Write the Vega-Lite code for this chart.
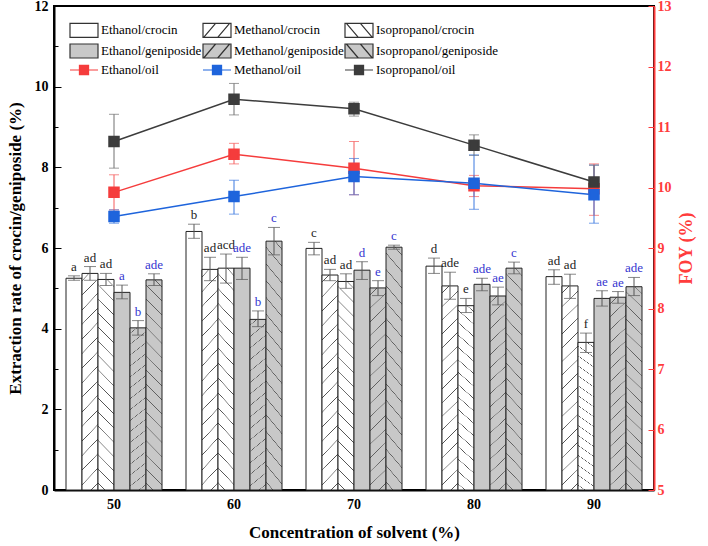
{
 "$schema": "https://vega.github.io/schema/vega-lite/v6.json",
 "width": 600, "height": 484,
 "autosize": {"type": "none"},
 "padding": {"left": 54, "top": 6, "right": 54, "bottom": 56},
 "config": {
  "font": "Liberation Serif",
  "view": {"stroke": "#000", "strokeWidth": 2},
  "axis": {"grid": false, "labelFont": "Liberation Serif", "titleFont": "Liberation Serif", "labelFontSize": 14, "labelFontWeight": "bold", "titleFontSize": 17, "titleFontWeight": "bold", "labelColor": "#000", "titleColor": "#000", "domainWidth": 2, "domainColor": "#000", "tickColor": "#000"},
  "legend": {"orient": "none", "direction": "horizontal", "gridAlign": "each", "legendX": 22, "legendY": 16, "columns": 3, "labelFont": "Liberation Serif", "labelFontSize": 13, "labelColor": "#000", "symbolSize": 196, "labelOffset": 9, "columnPadding": -2, "rowPadding": 1, "symbolStrokeWidth": 1.2, "padding": 0, "labelLimit": 300}
 },
 "datasets": {
  "bars": [
   {"conc":"50","series":"Ethanol/crocin","v":5.25,"lo":5.2,"hi":5.31,"label":"a"},
   {"conc":"50","series":"Methanol/crocin","v":5.37,"lo":5.2,"hi":5.54,"label":"ad"},
   {"conc":"50","series":"Isopropanol/crocin","v":5.22,"lo":5.07,"hi":5.37,"label":"ad"},
   {"conc":"50","series":"Ethanol/geniposide","v":4.9,"lo":4.74,"hi":5.08,"label":"a"},
   {"conc":"50","series":"Methanol/geniposide","v":4.02,"lo":3.84,"hi":4.2,"label":"b"},
   {"conc":"50","series":"Isopropanol/geniposide","v":5.21,"lo":5.07,"hi":5.36,"label":"ade"},
   {"conc":"60","series":"Ethanol/crocin","v":6.41,"lo":6.24,"hi":6.59,"label":"b"},
   {"conc":"60","series":"Methanol/crocin","v":5.47,"lo":5.19,"hi":5.77,"label":"ad"},
   {"conc":"60","series":"Isopropanol/crocin","v":5.5,"lo":5.13,"hi":5.85,"label":"acd"},
   {"conc":"60","series":"Ethanol/geniposide","v":5.5,"lo":5.22,"hi":5.77,"label":"ade"},
   {"conc":"60","series":"Methanol/geniposide","v":4.23,"lo":4.05,"hi":4.44,"label":"b"},
   {"conc":"60","series":"Isopropanol/geniposide","v":6.17,"lo":5.83,"hi":6.51,"label":"c"},
   {"conc":"70","series":"Ethanol/crocin","v":5.99,"lo":5.83,"hi":6.14,"label":"c"},
   {"conc":"70","series":"Methanol/crocin","v":5.33,"lo":5.19,"hi":5.47,"label":"ad"},
   {"conc":"70","series":"Isopropanol/crocin","v":5.17,"lo":5.0,"hi":5.36,"label":"ad"},
   {"conc":"70","series":"Ethanol/geniposide","v":5.45,"lo":5.22,"hi":5.66,"label":"d"},
   {"conc":"70","series":"Methanol/geniposide","v":5.01,"lo":4.82,"hi":5.19,"label":"e"},
   {"conc":"70","series":"Isopropanol/geniposide","v":6.02,"lo":5.97,"hi":6.07,"label":"c"},
   {"conc":"80","series":"Ethanol/crocin","v":5.55,"lo":5.37,"hi":5.75,"label":"d"},
   {"conc":"80","series":"Methanol/crocin","v":5.06,"lo":4.73,"hi":5.4,"label":"ade"},
   {"conc":"80","series":"Isopropanol/crocin","v":4.57,"lo":4.4,"hi":4.75,"label":"e"},
   {"conc":"80","series":"Ethanol/geniposide","v":5.1,"lo":4.94,"hi":5.25,"label":"ade"},
   {"conc":"80","series":"Methanol/geniposide","v":4.81,"lo":4.59,"hi":5.03,"label":"ae"},
   {"conc":"80","series":"Isopropanol/geniposide","v":5.5,"lo":5.36,"hi":5.65,"label":"c"},
   {"conc":"90","series":"Ethanol/crocin","v":5.29,"lo":5.1,"hi":5.46,"label":"ad"},
   {"conc":"90","series":"Methanol/crocin","v":5.06,"lo":4.75,"hi":5.35,"label":"ad"},
   {"conc":"90","series":"Isopropanol/crocin","v":3.66,"lo":3.41,"hi":3.89,"label":"f"},
   {"conc":"90","series":"Ethanol/geniposide","v":4.75,"lo":4.56,"hi":4.94,"label":"ae"},
   {"conc":"90","series":"Methanol/geniposide","v":4.78,"lo":4.63,"hi":4.92,"label":"ae"},
   {"conc":"90","series":"Isopropanol/geniposide","v":5.04,"lo":4.82,"hi":5.27,"label":"ade"}
  ],
  "oil": [
   {"conc":"50","series":"Ethanol/oil","v":9.92,"lo":9.63,"hi":10.21},
   {"conc":"60","series":"Ethanol/oil","v":10.55,"lo":10.39,"hi":10.73},
   {"conc":"70","series":"Ethanol/oil","v":10.32,"lo":9.88,"hi":10.76},
   {"conc":"80","series":"Ethanol/oil","v":10.03,"lo":9.85,"hi":10.2},
   {"conc":"90","series":"Ethanol/oil","v":9.98,"lo":9.54,"hi":10.39},
   {"conc":"50","series":"Methanol/oil","v":9.52,"lo":9.41,"hi":9.63},
   {"conc":"60","series":"Methanol/oil","v":9.85,"lo":9.56,"hi":10.12},
   {"conc":"70","series":"Methanol/oil","v":10.18,"lo":9.88,"hi":10.48},
   {"conc":"80","series":"Methanol/oil","v":10.07,"lo":9.64,"hi":10.54},
   {"conc":"90","series":"Methanol/oil","v":9.88,"lo":9.41,"hi":10.37},
   {"conc":"50","series":"Isopropanol/oil","v":10.76,"lo":10.32,"hi":11.21},
   {"conc":"60","series":"Isopropanol/oil","v":11.46,"lo":11.2,"hi":11.72},
   {"conc":"70","series":"Isopropanol/oil","v":11.3,"lo":11.18,"hi":11.41},
   {"conc":"80","series":"Isopropanol/oil","v":10.7,"lo":10.53,"hi":10.87},
   {"conc":"90","series":"Isopropanol/oil","v":10.09,"lo":9.81,"hi":10.37}
  ]
 },
 "encoding": {
  "x": {"field": "conc", "type": "ordinal", "scale": {"domain": ["50","60","70","80","90"], "paddingInner": 0.2, "paddingOuter": 0.1},
   "axis": {"title": "Concentration of solvent (%)", "labelAngle": 0, "tickSize": -4, "labelPadding": 11, "titlePadding": 13, "labelFont": "Liberation Serif", "titleFont": "Liberation Serif"}}
 },
 "layer": [
  {
   "data": {"name": "bars"},
   "layer": [
    {
     "mark": {"type": "bar", "stroke": "#222", "strokeWidth": 1},
     "encoding": {
      "xOffset": {"field": "series", "type": "nominal", "scale": {"domain": ["Ethanol/crocin","Methanol/crocin","Isopropanol/crocin","Ethanol/geniposide","Methanol/geniposide","Isopropanol/geniposide"], "paddingInner": 0, "paddingOuter": 0}},
      "y": {"field": "v", "type": "quantitative", "scale": {"domain": [0, 12], "nice": false},
       "axis": {"orient": "left", "title": "Extraction rate of crocin/geniposide (%)", "values": [0,1,2,3,4,5,6,7,8,9,10,11,12], "labelExpr": "datum.value % 2 === 0 ? datum.label : ''", "tickSize": {"condition": {"test": "datum.value % 2 === 0", "value": -7}, "value": -4}, "labelPadding": 13, "titlePadding": 10, "labelFont": "Liberation Serif", "titleFont": "Liberation Serif"}},
      "fill": {"condition": [
        {"test": "datum.series === 'Methanol/crocin'", "value": {"gradient": "linear", "x1": 0, "y1": 0, "x2": 0.0824, "y2": 1.0706, "stops": [
{"offset":0,"color":"#ffffff"},
{"offset":0.02825,"color":"#ffffff"},{"offset":0.03045,"color":"#555555"},{"offset":0.03205,"color":"#555555"},{"offset":0.03425,"color":"#ffffff"},
{"offset":0.09075,"color":"#ffffff"},{"offset":0.09295,"color":"#555555"},{"offset":0.09455,"color":"#555555"},{"offset":0.09675,"color":"#ffffff"},
{"offset":0.15325,"color":"#ffffff"},{"offset":0.15545,"color":"#555555"},{"offset":0.15705,"color":"#555555"},{"offset":0.15925,"color":"#ffffff"},
{"offset":0.21575,"color":"#ffffff"},{"offset":0.21795,"color":"#555555"},{"offset":0.21955,"color":"#555555"},{"offset":0.22175,"color":"#ffffff"},
{"offset":0.27825,"color":"#ffffff"},{"offset":0.28045,"color":"#555555"},{"offset":0.28205,"color":"#555555"},{"offset":0.28425,"color":"#ffffff"},
{"offset":0.34075,"color":"#ffffff"},{"offset":0.34295,"color":"#555555"},{"offset":0.34455,"color":"#555555"},{"offset":0.34675,"color":"#ffffff"},
{"offset":0.40325,"color":"#ffffff"},{"offset":0.40545,"color":"#555555"},{"offset":0.40705,"color":"#555555"},{"offset":0.40925,"color":"#ffffff"},
{"offset":0.46575,"color":"#ffffff"},{"offset":0.46795,"color":"#555555"},{"offset":0.46955,"color":"#555555"},{"offset":0.47175,"color":"#ffffff"},
{"offset":0.52825,"color":"#ffffff"},{"offset":0.53045,"color":"#555555"},{"offset":0.53205,"color":"#555555"},{"offset":0.53425,"color":"#ffffff"},
{"offset":0.59075,"color":"#ffffff"},{"offset":0.59295,"color":"#555555"},{"offset":0.59455,"color":"#555555"},{"offset":0.59675,"color":"#ffffff"},
{"offset":0.65325,"color":"#ffffff"},{"offset":0.65545,"color":"#555555"},{"offset":0.65705,"color":"#555555"},{"offset":0.65925,"color":"#ffffff"},
{"offset":0.71575,"color":"#ffffff"},{"offset":0.71795,"color":"#555555"},{"offset":0.71955,"color":"#555555"},{"offset":0.72175,"color":"#ffffff"},
{"offset":0.77825,"color":"#ffffff"},{"offset":0.78045,"color":"#555555"},{"offset":0.78205,"color":"#555555"},{"offset":0.78425,"color":"#ffffff"},
{"offset":0.84075,"color":"#ffffff"},{"offset":0.84295,"color":"#555555"},{"offset":0.84455,"color":"#555555"},{"offset":0.84675,"color":"#ffffff"},
{"offset":0.90325,"color":"#ffffff"},{"offset":0.90545,"color":"#555555"},{"offset":0.90705,"color":"#555555"},{"offset":0.90925,"color":"#ffffff"},
{"offset":0.96575,"color":"#ffffff"},{"offset":0.96795,"color":"#555555"},{"offset":0.96955,"color":"#555555"},{"offset":0.97175,"color":"#ffffff"},
{"offset":1,"color":"#ffffff"}]}},
        {"test": "datum.series === 'Isopropanol/crocin'", "value": {"gradient": "linear", "x1": 0, "y1": 1, "x2": 0.0824, "y2": -0.0706, "stops": [
{"offset":0,"color":"#ffffff"},
{"offset":0.02825,"color":"#ffffff"},{"offset":0.03045,"color":"#555555"},{"offset":0.03205,"color":"#555555"},{"offset":0.03425,"color":"#ffffff"},
{"offset":0.09075,"color":"#ffffff"},{"offset":0.09295,"color":"#555555"},{"offset":0.09455,"color":"#555555"},{"offset":0.09675,"color":"#ffffff"},
{"offset":0.15325,"color":"#ffffff"},{"offset":0.15545,"color":"#555555"},{"offset":0.15705,"color":"#555555"},{"offset":0.15925,"color":"#ffffff"},
{"offset":0.21575,"color":"#ffffff"},{"offset":0.21795,"color":"#555555"},{"offset":0.21955,"color":"#555555"},{"offset":0.22175,"color":"#ffffff"},
{"offset":0.27825,"color":"#ffffff"},{"offset":0.28045,"color":"#555555"},{"offset":0.28205,"color":"#555555"},{"offset":0.28425,"color":"#ffffff"},
{"offset":0.34075,"color":"#ffffff"},{"offset":0.34295,"color":"#555555"},{"offset":0.34455,"color":"#555555"},{"offset":0.34675,"color":"#ffffff"},
{"offset":0.40325,"color":"#ffffff"},{"offset":0.40545,"color":"#555555"},{"offset":0.40705,"color":"#555555"},{"offset":0.40925,"color":"#ffffff"},
{"offset":0.46575,"color":"#ffffff"},{"offset":0.46795,"color":"#555555"},{"offset":0.46955,"color":"#555555"},{"offset":0.47175,"color":"#ffffff"},
{"offset":0.52825,"color":"#ffffff"},{"offset":0.53045,"color":"#555555"},{"offset":0.53205,"color":"#555555"},{"offset":0.53425,"color":"#ffffff"},
{"offset":0.59075,"color":"#ffffff"},{"offset":0.59295,"color":"#555555"},{"offset":0.59455,"color":"#555555"},{"offset":0.59675,"color":"#ffffff"},
{"offset":0.65325,"color":"#ffffff"},{"offset":0.65545,"color":"#555555"},{"offset":0.65705,"color":"#555555"},{"offset":0.65925,"color":"#ffffff"},
{"offset":0.71575,"color":"#ffffff"},{"offset":0.71795,"color":"#555555"},{"offset":0.71955,"color":"#555555"},{"offset":0.72175,"color":"#ffffff"},
{"offset":0.77825,"color":"#ffffff"},{"offset":0.78045,"color":"#555555"},{"offset":0.78205,"color":"#555555"},{"offset":0.78425,"color":"#ffffff"},
{"offset":0.84075,"color":"#ffffff"},{"offset":0.84295,"color":"#555555"},{"offset":0.84455,"color":"#555555"},{"offset":0.84675,"color":"#ffffff"},
{"offset":0.90325,"color":"#ffffff"},{"offset":0.90545,"color":"#555555"},{"offset":0.90705,"color":"#555555"},{"offset":0.90925,"color":"#ffffff"},
{"offset":0.96575,"color":"#ffffff"},{"offset":0.96795,"color":"#555555"},{"offset":0.96955,"color":"#555555"},{"offset":0.97175,"color":"#ffffff"},
{"offset":1,"color":"#ffffff"}]}},
        {"test": "datum.series === 'Ethanol/geniposide'", "value": "#c8c8c8"},
        {"test": "datum.series === 'Methanol/geniposide'", "value": {"gradient": "linear", "x1": 0, "y1": 0, "x2": 0.0824, "y2": 1.0706, "stops": [
{"offset":0,"color":"#c8c8c8"},
{"offset":0.02825,"color":"#c8c8c8"},{"offset":0.03045,"color":"#606060"},{"offset":0.03205,"color":"#606060"},{"offset":0.03425,"color":"#c8c8c8"},
{"offset":0.09075,"color":"#c8c8c8"},{"offset":0.09295,"color":"#606060"},{"offset":0.09455,"color":"#606060"},{"offset":0.09675,"color":"#c8c8c8"},
{"offset":0.15325,"color":"#c8c8c8"},{"offset":0.15545,"color":"#606060"},{"offset":0.15705,"color":"#606060"},{"offset":0.15925,"color":"#c8c8c8"},
{"offset":0.21575,"color":"#c8c8c8"},{"offset":0.21795,"color":"#606060"},{"offset":0.21955,"color":"#606060"},{"offset":0.22175,"color":"#c8c8c8"},
{"offset":0.27825,"color":"#c8c8c8"},{"offset":0.28045,"color":"#606060"},{"offset":0.28205,"color":"#606060"},{"offset":0.28425,"color":"#c8c8c8"},
{"offset":0.34075,"color":"#c8c8c8"},{"offset":0.34295,"color":"#606060"},{"offset":0.34455,"color":"#606060"},{"offset":0.34675,"color":"#c8c8c8"},
{"offset":0.40325,"color":"#c8c8c8"},{"offset":0.40545,"color":"#606060"},{"offset":0.40705,"color":"#606060"},{"offset":0.40925,"color":"#c8c8c8"},
{"offset":0.46575,"color":"#c8c8c8"},{"offset":0.46795,"color":"#606060"},{"offset":0.46955,"color":"#606060"},{"offset":0.47175,"color":"#c8c8c8"},
{"offset":0.52825,"color":"#c8c8c8"},{"offset":0.53045,"color":"#606060"},{"offset":0.53205,"color":"#606060"},{"offset":0.53425,"color":"#c8c8c8"},
{"offset":0.59075,"color":"#c8c8c8"},{"offset":0.59295,"color":"#606060"},{"offset":0.59455,"color":"#606060"},{"offset":0.59675,"color":"#c8c8c8"},
{"offset":0.65325,"color":"#c8c8c8"},{"offset":0.65545,"color":"#606060"},{"offset":0.65705,"color":"#606060"},{"offset":0.65925,"color":"#c8c8c8"},
{"offset":0.71575,"color":"#c8c8c8"},{"offset":0.71795,"color":"#606060"},{"offset":0.71955,"color":"#606060"},{"offset":0.72175,"color":"#c8c8c8"},
{"offset":0.77825,"color":"#c8c8c8"},{"offset":0.78045,"color":"#606060"},{"offset":0.78205,"color":"#606060"},{"offset":0.78425,"color":"#c8c8c8"},
{"offset":0.84075,"color":"#c8c8c8"},{"offset":0.84295,"color":"#606060"},{"offset":0.84455,"color":"#606060"},{"offset":0.84675,"color":"#c8c8c8"},
{"offset":0.90325,"color":"#c8c8c8"},{"offset":0.90545,"color":"#606060"},{"offset":0.90705,"color":"#606060"},{"offset":0.90925,"color":"#c8c8c8"},
{"offset":0.96575,"color":"#c8c8c8"},{"offset":0.96795,"color":"#606060"},{"offset":0.96955,"color":"#606060"},{"offset":0.97175,"color":"#c8c8c8"},
{"offset":1,"color":"#c8c8c8"}]}},
        {"test": "datum.series === 'Isopropanol/geniposide'", "value": {"gradient": "linear", "x1": 0, "y1": 1, "x2": 0.0824, "y2": -0.0706, "stops": [
{"offset":0,"color":"#c8c8c8"},
{"offset":0.02825,"color":"#c8c8c8"},{"offset":0.03045,"color":"#606060"},{"offset":0.03205,"color":"#606060"},{"offset":0.03425,"color":"#c8c8c8"},
{"offset":0.09075,"color":"#c8c8c8"},{"offset":0.09295,"color":"#606060"},{"offset":0.09455,"color":"#606060"},{"offset":0.09675,"color":"#c8c8c8"},
{"offset":0.15325,"color":"#c8c8c8"},{"offset":0.15545,"color":"#606060"},{"offset":0.15705,"color":"#606060"},{"offset":0.15925,"color":"#c8c8c8"},
{"offset":0.21575,"color":"#c8c8c8"},{"offset":0.21795,"color":"#606060"},{"offset":0.21955,"color":"#606060"},{"offset":0.22175,"color":"#c8c8c8"},
{"offset":0.27825,"color":"#c8c8c8"},{"offset":0.28045,"color":"#606060"},{"offset":0.28205,"color":"#606060"},{"offset":0.28425,"color":"#c8c8c8"},
{"offset":0.34075,"color":"#c8c8c8"},{"offset":0.34295,"color":"#606060"},{"offset":0.34455,"color":"#606060"},{"offset":0.34675,"color":"#c8c8c8"},
{"offset":0.40325,"color":"#c8c8c8"},{"offset":0.40545,"color":"#606060"},{"offset":0.40705,"color":"#606060"},{"offset":0.40925,"color":"#c8c8c8"},
{"offset":0.46575,"color":"#c8c8c8"},{"offset":0.46795,"color":"#606060"},{"offset":0.46955,"color":"#606060"},{"offset":0.47175,"color":"#c8c8c8"},
{"offset":0.52825,"color":"#c8c8c8"},{"offset":0.53045,"color":"#606060"},{"offset":0.53205,"color":"#606060"},{"offset":0.53425,"color":"#c8c8c8"},
{"offset":0.59075,"color":"#c8c8c8"},{"offset":0.59295,"color":"#606060"},{"offset":0.59455,"color":"#606060"},{"offset":0.59675,"color":"#c8c8c8"},
{"offset":0.65325,"color":"#c8c8c8"},{"offset":0.65545,"color":"#606060"},{"offset":0.65705,"color":"#606060"},{"offset":0.65925,"color":"#c8c8c8"},
{"offset":0.71575,"color":"#c8c8c8"},{"offset":0.71795,"color":"#606060"},{"offset":0.71955,"color":"#606060"},{"offset":0.72175,"color":"#c8c8c8"},
{"offset":0.77825,"color":"#c8c8c8"},{"offset":0.78045,"color":"#606060"},{"offset":0.78205,"color":"#606060"},{"offset":0.78425,"color":"#c8c8c8"},
{"offset":0.84075,"color":"#c8c8c8"},{"offset":0.84295,"color":"#606060"},{"offset":0.84455,"color":"#606060"},{"offset":0.84675,"color":"#c8c8c8"},
{"offset":0.90325,"color":"#c8c8c8"},{"offset":0.90545,"color":"#606060"},{"offset":0.90705,"color":"#606060"},{"offset":0.90925,"color":"#c8c8c8"},
{"offset":0.96575,"color":"#c8c8c8"},{"offset":0.96795,"color":"#606060"},{"offset":0.96955,"color":"#606060"},{"offset":0.97175,"color":"#c8c8c8"},
{"offset":1,"color":"#c8c8c8"}]}}
       ], "value": "#ffffff"}
     }
    },
    {
     "mark": {"type": "errorbar", "ticks": {"size": 12}, "color": "#555", "thickness": 1},
     "encoding": {
      "xOffset": {"field": "series", "type": "nominal", "scale": {"domain": ["Ethanol/crocin","Methanol/crocin","Isopropanol/crocin","Ethanol/geniposide","Methanol/geniposide","Isopropanol/geniposide"], "paddingInner": 0, "paddingOuter": 0}},
      "y": {"field": "lo", "type": "quantitative", "title": "Extraction rate of crocin/geniposide (%)"},
      "y2": {"field": "hi"}
     }
    },
    {
     "mark": {"type": "text", "baseline": "bottom", "dy": -2, "fontSize": 13, "font": "Liberation Serif"},
     "encoding": {
      "xOffset": {"field": "series", "type": "nominal", "scale": {"domain": ["Ethanol/crocin","Methanol/crocin","Isopropanol/crocin","Ethanol/geniposide","Methanol/geniposide","Isopropanol/geniposide"], "paddingInner": 0, "paddingOuter": 0}},
      "y": {"field": "hi", "type": "quantitative", "title": "Extraction rate of crocin/geniposide (%)"},
      "text": {"field": "label", "type": "nominal"},
      "color": {"condition": {"test": "indexof(datum.series, 'geniposide') >= 0", "value": "#3535d0"}, "value": "#222222"}
     }
    }
   ]
  },
  {
   "data": {"name": "oil"},
   "layer": [
    {
     "mark": {"type": "line", "strokeWidth": 1.5},
     "encoding": {
      "y": {"field": "v", "type": "quantitative", "scale": {"domain": [5, 13], "nice": false},
       "axis": {"orient": "right", "title": "FOY (%)", "titleAngle": 270, "titleColor": "#ff3c3c", "titleFontSize": 18, "labelColor": "#ff3c3c", "domainColor": "#ff3c3c", "tickColor": "#ff3c3c", "values": [5,5.5,6,6.5,7,7.5,8,8.5,9,9.5,10,10.5,11,11.5,12,12.5,13], "labelExpr": "datum.value % 1 === 0 ? format(datum.value, 'd') : ''", "tickSize": {"condition": {"test": "datum.value % 1 === 0", "value": -6}, "value": -3}, "labelPadding": 9, "titlePadding": 24, "labelFont": "Liberation Serif", "titleFont": "Liberation Serif"}},
      "stroke": {"field": "series", "type": "nominal", "title": null}
     }
    },
    {
     "mark": {"type": "errorbar", "ticks": {"size": 10}, "thickness": 1},
     "encoding": {
      "y": {"field": "lo", "type": "quantitative", "title": "FOY (%)"},
      "y2": {"field": "hi"},
      "color": {"field": "series", "type": "nominal", "legend": null, "scale": {"domain": ["Ethanol/oil","Methanol/oil","Isopropanol/oil"], "range": ["#f55a5a","#3a78e0","#707070"]}}
     }
    },
    {
     "mark": {"type": "point", "shape": "square", "filled": true, "size": 90, "opacity": 1},
     "encoding": {
      "y": {"field": "v", "type": "quantitative", "title": "FOY (%)"},
      "fill": {"field": "series", "type": "nominal", "title": null},
      "stroke": {"field": "series", "type": "nominal", "title": null}
     }
    },
    {
     "data": {"values": []},
     "mark": {"type": "point", "filled": true, "size": 196, "opacity": 1},
     "encoding": {
      "shape": {"field": "series", "type": "nominal", "title": null,
       "scale": {"domain": ["Ethanol/crocin","Methanol/crocin","Isopropanol/crocin","Ethanol/geniposide","Methanol/geniposide","Isopropanol/geniposide","Ethanol/oil","Methanol/oil","Isopropanol/oil"],
        "range": ["M-2,-1H2V1H-2Z","M-2,-1H2V1H-2ZM-1.9,1L-0.2,-1M0.1,1L1.8,-1","M-2,-1H2V1H-2ZM-1.8,-1L-0.1,1M0.2,-1L1.9,1","M-2,-1H2V1H-2Z","M-2,-1H2V1H-2ZM-1.9,1L-0.2,-1M0.1,1L1.8,-1","M-2,-1H2V1H-2ZM-1.8,-1L-0.1,1M0.2,-1L1.9,1","M-2,0H2M-0.65,-0.65H0.65V0.65H-0.65Z","M-2,0H2M-0.65,-0.65H0.65V0.65H-0.65Z","M-2,0H2M-0.65,-0.65H0.65V0.65H-0.65Z"]}},
      "fill": {"field": "series", "type": "nominal", "title": null,
       "scale": {"domain": ["Ethanol/crocin","Methanol/crocin","Isopropanol/crocin","Ethanol/geniposide","Methanol/geniposide","Isopropanol/geniposide","Ethanol/oil","Methanol/oil","Isopropanol/oil"],
        "range": ["#ffffff","#ffffff","#ffffff","#c8c8c8","#c8c8c8","#c8c8c8","#f53c3c","#1e64dc","#3c3c3c"]}},
      "stroke": {"field": "series", "type": "nominal", "title": null,
       "scale": {"domain": ["Ethanol/crocin","Methanol/crocin","Isopropanol/crocin","Ethanol/geniposide","Methanol/geniposide","Isopropanol/geniposide","Ethanol/oil","Methanol/oil","Isopropanol/oil"],
        "range": ["#333333","#333333","#333333","#333333","#333333","#333333","#f53c3c","#1e64dc","#3c3c3c"]}}
     }
    }
   ]
  }
 ],
 "resolve": {"scale": {"y": "independent"}, "axis": {"y": "independent"}}
}
